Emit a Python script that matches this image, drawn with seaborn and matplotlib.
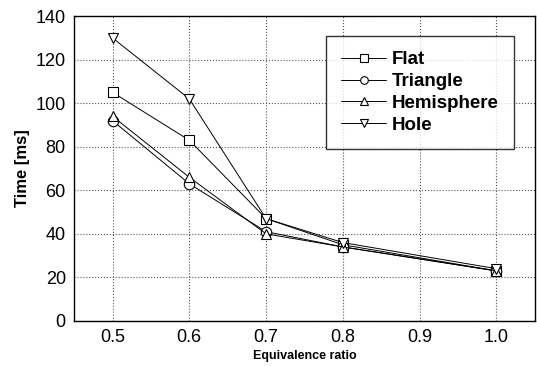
import numpy as np
import pandas as pd
import seaborn as sns
import matplotlib.pyplot as plt

ratio = [0.5, 0.6, 0.7, 0.8, 1.0]
flat = [105, 83, 47, 35, 23]
triangle = [92, 63, 41, 34, 23]
hemisphere = [94, 66, 40, 34, 23]
hole = [130, 102, 47, 36, 24]

series = {'Flat': (flat, 's'), 'Triangle': (triangle, 'o'),
          'Hemisphere': (hemisphere, '^'), 'Hole': (hole, 'v')}

sns.set_style('white')
plt.rcParams['font.family'] = ['Liberation Sans', 'DejaVu Sans']
plt.rcParams.update({'text.color': 'black', 'axes.labelcolor': 'black',
                     'xtick.color': 'black', 'ytick.color': 'black'})

fig = plt.figure(figsize=(5.37, 3.66), dpi=100)
ax = fig.add_axes([0.138, 0.123, 0.858, 0.833])

for name, (vals, mk) in series.items():
    df = pd.DataFrame({'ratio': ratio, 'time': vals})
    sns.lineplot(data=df, x='ratio', y='time', ax=ax, color='black', lw=0.7,
                 marker=mk, markersize=7.5, markerfacecolor='white',
                 markeredgecolor='black', markeredgewidth=0.8, label=name)

ax.set_xlim(0.45, 1.05)
ax.set_ylim(0, 140)
ax.set_xticks([0.5, 0.6, 0.7, 0.8, 0.9, 1.0])
ax.set_xticklabels(['0.5', '0.6', '0.7', '0.8', '0.9', '1.0'])
ax.set_yticks(np.arange(0, 141, 20))
ax.grid(True, linestyle=':', color='#555555', lw=0.8)
for s in ax.spines.values():
    s.set_color('black')
    s.set_linewidth(1.0)
ax.tick_params(labelsize=13, length=0, pad=6)

ax.set_xlabel('Equivalence ratio', fontsize=9, fontweight='bold', labelpad=3)
ax.set_ylabel('Time [ms]', fontsize=12, fontweight='bold', labelpad=4)

leg = ax.legend(loc='upper right', bbox_to_anchor=(0.975, 0.965),
                prop={'weight': 'bold', 'size': 13.5}, frameon=True, fancybox=False,
                edgecolor='black', handlelength=2.4, labelspacing=0.25,
                borderpad=0.8, handletextpad=0.3)
leg.get_frame().set_linewidth(1.0)
for h in leg.legend_handles:
    h.set_markersize(5.5)

fig.savefig('out.png', dpi=100)
